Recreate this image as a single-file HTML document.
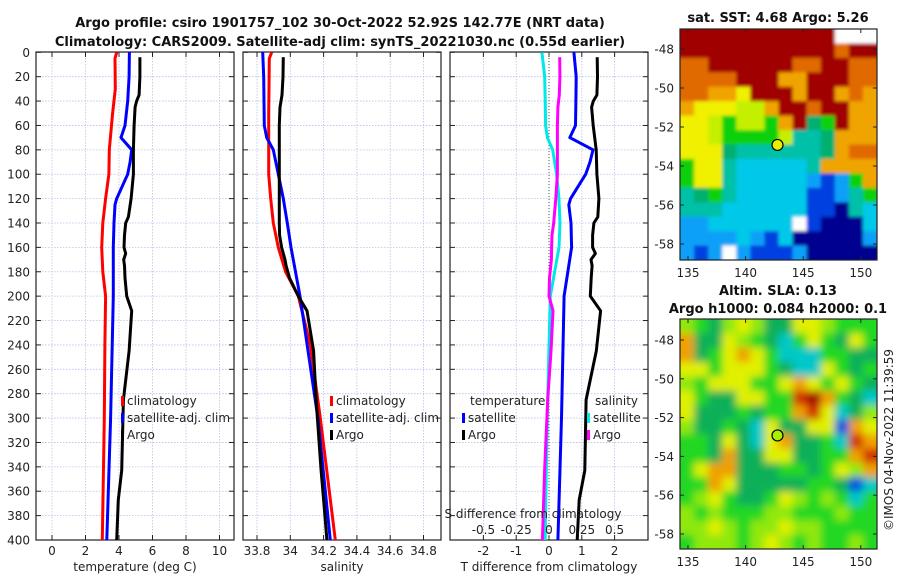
<!DOCTYPE html>
<html><head><meta charset="utf-8"><style>
body{margin:0;background:#fff}
svg{display:block;font-family:"DejaVu Sans","Liberation Sans",sans-serif}
.t{font-size:12px;fill:#222}
.b{font-size:13px;font-weight:bold;fill:#111}
</style></head><body>
<svg id="c" width="900" height="580" viewBox="0 0 900 580">
<defs>
<clipPath id="cp1"><rect x="36" y="52" width="198" height="488"/></clipPath>
<clipPath id="cp2"><rect x="243" y="52" width="198" height="488"/></clipPath>
<clipPath id="cp3"><rect x="450" y="52" width="198" height="488"/></clipPath>
<clipPath id="cpm1"><rect x="680" y="29" width="197" height="231"/></clipPath>
<clipPath id="cpm2"><rect x="680" y="319" width="197" height="230"/></clipPath>
<filter id="blur" x="-5%" y="-5%" width="110%" height="110%"><feGaussianBlur stdDeviation="4"/></filter>
<filter id="blur2" x="-5%" y="-5%" width="110%" height="110%"><feGaussianBlur stdDeviation="1.5"/></filter>
</defs>
<text class="b" x="340" y="27" text-anchor="middle">Argo profile: csiro 1901757_102 30-Oct-2022 52.92S 142.77E (NRT data)</text>
<text class="b" x="340" y="46" text-anchor="middle">Climatology: CARS2009. Satellite-adj clim: synTS_20221030.nc (0.55d earlier)</text>
<text class="b" x="778" y="22" text-anchor="middle">sat. SST: 4.68 Argo: 5.26</text>
<text class="b" x="778" y="295" text-anchor="middle">Altim. SLA: 0.13</text>
<text class="b" x="778" y="313" text-anchor="middle">Argo h1000: 0.084 h2000: 0.1</text>
<text class="t" transform="translate(893,440) rotate(-90)" text-anchor="middle">©IMOS 04-Nov-2022 11:39:59</text>
<g id="g"></g>
</svg>
<script>
const climDepth=[0,5,30,50,80,100,120,140,160,180,200,240,300,400];
const climT=[3.86,3.76,3.78,3.62,3.42,3.4,3.2,3.03,2.97,3.03,3.2,3.16,3.12,3.0];
const climS=[33.888,33.874,33.872,33.87,33.87,33.87,33.882,33.898,33.928,33.972,34.048,34.12,34.18,34.27];
const satDepth=[0,20,40,60,70,80,90,100,120,125,140,160,200,300,400];
const satT=[4.62,4.6,4.52,4.36,4.12,4.76,4.66,4.52,3.86,3.76,3.7,3.66,3.66,3.5,3.27];
const satS=[33.834,33.84,33.842,33.844,33.858,33.898,33.913,33.928,33.958,33.964,33.982,34.004,34.058,34.166,34.24];
const argoDepth=[4,20,35,40,45,60,80,100,120,135,140,150,160,165,170,175,185,200,212,245,285,343,367,400];
const argoT=[5.25,5.25,5.2,5.05,4.96,4.9,4.86,4.86,4.72,4.56,4.4,4.33,4.3,4.4,4.28,4.33,4.36,4.46,4.76,4.6,4.26,4.16,3.96,3.86];
const argoS=[33.958,33.956,33.95,33.944,33.938,33.934,33.934,33.934,33.934,33.934,33.934,33.936,33.948,33.958,33.968,33.975,33.995,34.048,34.1,34.14,34.155,34.185,34.2,34.22];
const depthTicks=[0,20,40,60,80,100,120,140,160,180,200,220,240,260,280,300,320,340,360,380,400];
const tTicks=[0,2,4,6,8,10];
const sTicks=[33.8,34,34.2,34.4,34.6,34.8];
const sTickLabels=["33.8","34","34.2","34.4","34.6","34.8"];
const dTicks=[-2,-1,0,1,2];
const sdTicks=[-0.5,-0.25,0,0.25,0.5];
const sdTickLabels=["-0.5","-0.25","0","0.25","0.5"];
const lonTicks=[135,140,145,150];
const latTicks=[-48,-50,-52,-54,-56,-58];
const argoLon=142.77, argoLat=-52.92;
const sstGrid=["RRRRRRRRRRRWWW","RRRRRRRRRRRORR","OORRRRRROORROO","OOOORRRooRRROO","OOooYRRRoRRoOo","oYYYyyoRRORRoo","YYyGyyGoRgGRoo","YYyGGGGyTTgooo","YYYgTTTTTTgoOO","GYYTCCCCCToooo","GYYTCCCCCcBcGo","TgGTCCCCCBBcTG","TTTCCCCCCBBNTC","ccCCCCCCWBNNNC","ccccCcBCNNNNNc","cBcWcBBBcNNNNN"];
const slaGrid=["yGgyYyggYYyGGG","OggYyGgCGYGgYG","OgGYOYGCCCGGgg","YYGYYYGgCCYGgG","yGYYYGGYOYGYGg","YGggYYGGRDOGgC","YgggGgGGORYCgy","yggGgCYggYYBOY","GGgYgCYOggGCRO","GGgOggYYggGGOR","GYOOgggGGgGYyO","GGOYgggggGGgBC","GyYGggGYyGyGCG","yGyGGGyyGGGyGG","yyYyGyyYyyGGGG","GyyyGyYyGyGGyG"];
const sstCol={R:"#a00000",O:"#e06a00",o:"#f0a400",Y:"#f0f000",y:"#c4f000",G:"#10d010",g:"#00b070",T:"#00c0a8",C:"#00c8e8",c:"#10a0f8",B:"#0040e0",N:"#000090",W:"#ffffff"};
const slaCol={G:"#20d820",g:"#10b058",Y:"#e0f000",y:"#90e810",O:"#f0a000",R:"#d03000",D:"#a00000",C:"#00c8c8",B:"#0050e0"};

const NS="http://www.w3.org/2000/svg";
const G=document.getElementById('g');
function mk(tag,attrs,parent,text){const e=document.createElementNS(NS,tag);for(const k in attrs)e.setAttribute(k,attrs[k]);if(text!==undefined)e.textContent=text;(parent||G).appendChild(e);return e;}
const yD=d=>52.3+d*(540-52.3)/400;
const xT=t=>52+t*16.75;
const xS=s=>257+(s-33.8)*166.5;
const xD=v=>549+v*32.8;
const xSD=v=>xD(v*4);
function interp(dArr,vArr,d){if(d<=dArr[0])return vArr[0];for(let i=1;i<dArr.length;i++){if(d<=dArr[i]){const f=(d-dArr[i-1])/(dArr[i]-dArr[i-1]);return vArr[i-1]+f*(vArr[i]-vArr[i-1]);}}return vArr[vArr.length-1];}

const panels=[{x:36,cp:'cp1',ticks:tTicks,labels:tTicks.map(String),sx:xT,title:'temperature (deg C)'},
{x:243,cp:'cp2',ticks:sTicks,labels:sTickLabels,sx:xS,title:'salinity'},
{x:450,cp:'cp3',ticks:dTicks,labels:dTicks.map(String),sx:xD,title:'T difference from climatology'}];
panels.forEach((p,pi)=>{
  const pg=mk('g',{});
  
  
  depthTicks.forEach(d=>{mk('line',{x1:p.x,x2:p.x+198,y1:yD(d),y2:yD(d),stroke:'#b8c0e8','stroke-width':0.8,'stroke-dasharray':'1.5 1.5'},pg);
    mk('line',{x1:p.x,x2:p.x+5,y1:yD(d),y2:yD(d),stroke:'#222'},pg);mk('line',{x1:p.x+193,x2:p.x+198,y1:yD(d),y2:yD(d),stroke:'#222'},pg);});
  p.ticks.forEach((t,i)=>{const x=p.sx(t);
    mk('line',{x1:x,x2:x,y1:52,y2:540,stroke:'#b8c0e8','stroke-width':0.8,'stroke-dasharray':'1.5 1.5'},pg);
    mk('line',{x1:x,x2:x,y1:535,y2:540,stroke:'#222'},pg);mk('line',{x1:x,x2:x,y1:52,y2:57,stroke:'#222'},pg);
    const tl=mk('text',{class:'t',x:x,y:555,'text-anchor':'middle'},pg,p.labels[i]);
    
    });
  const at=mk('text',{class:'t',x:p.x+99,y:571,'text-anchor':'middle'},pg,p.title);
  
  
  mk('rect',{x:p.x,y:52,width:198,height:488,fill:'none',stroke:'#222','stroke-width':1.2},pg);
});
depthTicks.forEach(d=>{const t=mk('text',{class:'t',x:30,y:yD(d)+4.5,'text-anchor':'end'},G,String(d));
  
  });
mk('line',{x1:549,x2:549,y1:52,y2:540,stroke:'#555','stroke-width':1,'stroke-dasharray':'1 2'});

function line(dArr,vArr,sx,color,cp,name){const pts=dArr.map((d,i)=>sx(vArr[i]).toFixed(1)+','+yD(d).toFixed(1)).join(' ');
  const e=mk('polyline',{points:pts,fill:'none',stroke:color,'stroke-width':3,'stroke-linejoin':'round','clip-path':'url(#'+cp+')'});
  
  }
line(climDepth,climT,xT,'#ff0000','cp1','climatology-temperature-line');
line(satDepth,satT,xT,'#0000ff','cp1','satellite-temperature-line');
line(argoDepth,argoT,xT,'#000','cp1','argo-temperature-line');
line(climDepth,climS,xS,'#ff0000','cp2','climatology-salinity-line');
line(satDepth,satS,xS,'#0000ff','cp2','satellite-salinity-line');
line(argoDepth,argoS,xS,'#000','cp2','argo-salinity-line');
const satTd=satDepth.map(d=>interp(satDepth,satT,d)-interp(climDepth,climT,d));
const argoTd=argoDepth.map(d=>interp(argoDepth,argoT,d)-interp(climDepth,climT,d));
const satSd=satDepth.map(d=>interp(satDepth,satS,d)-interp(climDepth,climS,d));
const argoSd=argoDepth.map(d=>interp(argoDepth,argoS,d)-interp(climDepth,climS,d));
line(satDepth,satSd,xSD,'#00e8e8','cp3','satellite-salinity-diff-line');
line(argoDepth,argoSd,xSD,'#ff00ff','cp3','argo-salinity-diff-line');
line(satDepth,satTd,xD,'#0000ff','cp3','satellite-temperature-diff-line');
line(argoDepth,argoTd,xD,'#000','cp3','argo-temperature-diff-line');

function legend(x,y,color,label){const g=mk('g',{});
  
  
  mk('rect',{x:x,y:y-9,width:3,height:10,fill:color},g);
  mk('text',{class:'t',x:x+6,y:y},g,label);}
legend(121,405,'#ff0000','climatology');legend(121,422,'#0000ff','satellite-adj. clim');legend(121,439,'#000','Argo');
legend(330,405,'#ff0000','climatology');legend(330,422,'#0000ff','satellite-adj. clim');legend(330,439,'#000','Argo');
mk('text',{class:'t',x:470,y:405},G,'temperature');
legend(462,422,'#0000ff','satellite');legend(462,439,'#000','Argo');
mk('text',{class:'t',x:595,y:405},G,'salinity');
legend(587,422,'#00e8e8','satellite');legend(587,439,'#ff00ff','Argo');
mk('text',{class:'t',x:533,y:518,'text-anchor':'middle'},G,'S difference from climatology');
sdTicks.forEach((v,i)=>{const t=mk('text',{class:'t',x:xSD(v),y:534,'text-anchor':'middle'},G,sdTickLabels[i]);
  
  });

function map(grid,col,y0,h,cp,filt,lat0y,latScale,name,circleFill){
  const mg=mk('g',{});
  
  
  const inner=mk('g',{'clip-path':'url(#'+cp+')'},mg);
  const fillg=mk('g',{filter:'url(#'+filt+')'},inner);
  const rows=grid.length,cols=grid[0].length,cw=197/cols,ch=h/rows;
  const ex=8;
  grid.forEach((r,ri)=>{for(let ci=0;ci<cols;ci++){
    mk('rect',{x:680+ci*cw-(ci==0?ex:0),y:y0+ri*ch-(ri==0?ex:0),width:cw+0.6+(ci==0||ci==cols-1?ex:0),height:ch+0.6+(ri==0||ri==rows-1?ex:0),fill:col[r[ci]]},fillg);}});
  const xL=l=>688+(l-135)*11.52, yL=l=>lat0y+(-48-l)*latScale;
  lonTicks.forEach(l=>{mk('line',{x1:xL(l),x2:xL(l),y1:y0+h,y2:y0+h-4,stroke:'#222'},mg);mk('line',{x1:xL(l),x2:xL(l),y1:y0,y2:y0+4,stroke:'#222'},mg);
    mk('text',{class:'t',x:xL(l),y:y0+h+17,'text-anchor':'middle'},mg,String(l));});
  latTicks.forEach(l=>{mk('line',{x1:680,x2:684,y1:yL(l),y2:yL(l),stroke:'#222'},mg);mk('line',{x1:873,x2:877,y1:yL(l),y2:yL(l),stroke:'#222'},mg);
    mk('text',{class:'t',x:674,y:yL(l)+4.5,'text-anchor':'end'},mg,String(l));});
  mk('circle',{cx:xL(argoLon),cy:yL(argoLat),r:5.5,fill:circleFill,stroke:'#000','stroke-width':1.2},mg);
  mk('rect',{x:680,y:y0,width:197,height:h,fill:'none',stroke:'#222','stroke-width':1.2},mg);
}
map(sstGrid,sstCol,29,231,'cpm1','blur2',49,19.5,'sst-map','#e8f000');
map(slaGrid,slaCol,319,230,'cpm2','blur',340,19.4,'sla-map','#a8f000');
</script>
</body></html>
